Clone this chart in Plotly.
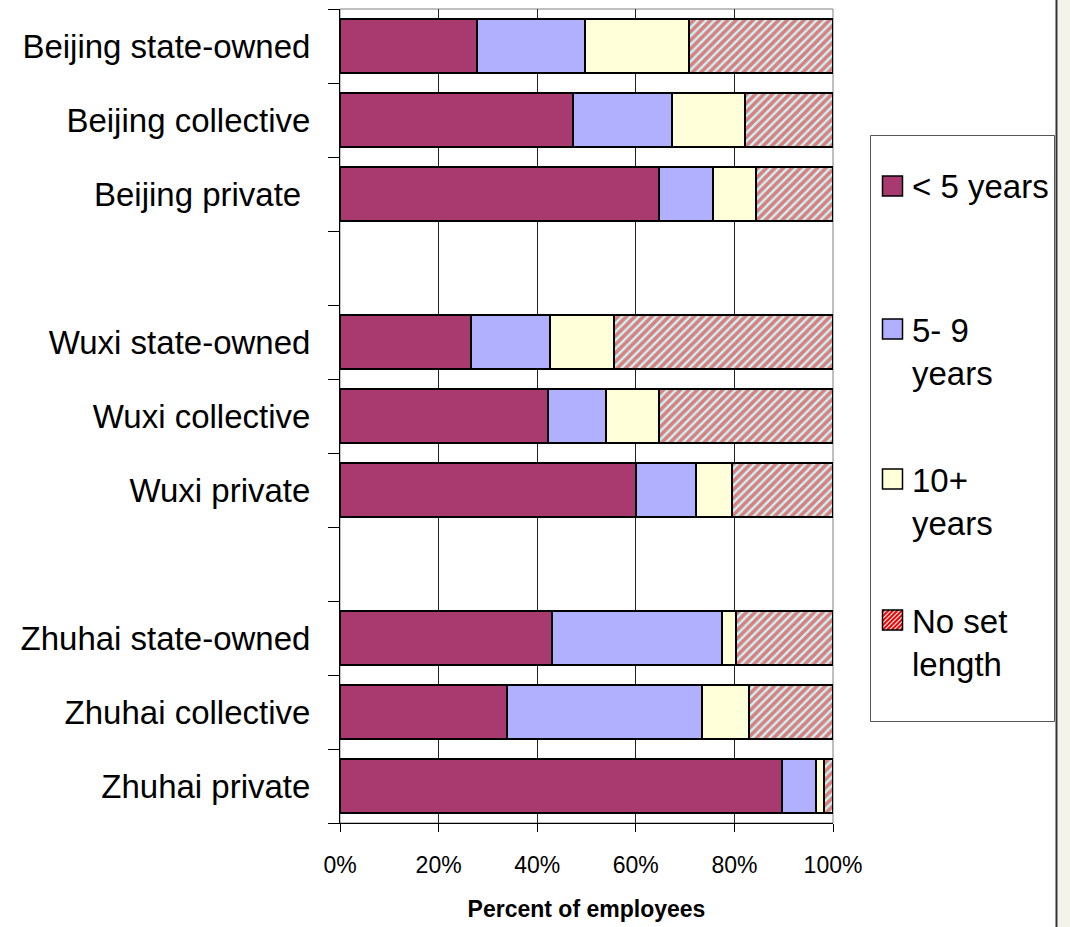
import plotly.graph_objects as go

# ---------------- data ----------------
categories = [
    "Beijing state-owned", "Beijing collective", "Beijing private\u00a0",
    "Wuxi state-owned", "Wuxi collective", "Wuxi private",
    "Zhuhai state-owned", "Zhuhai collective", "Zhuhai private",
]
slot_positions = [0, 1, 2, 4, 5, 6, 8, 9, 10]   # blank slots between city groups

lt5 = [27.8, 47.3, 64.8, 26.5, 42.1, 60.0, 43.1, 33.9, 89.6]
y5_9 = [21.8, 20.1, 10.8, 16.0, 11.8, 12.2, 34.3, 39.6, 6.9]
y10p = [21.2, 14.8, 8.8, 13.1, 10.9, 7.4, 3.0, 9.5, 1.7]
noset = [29.2, 17.8, 15.6, 44.4, 35.2, 20.4, 19.6, 17.0, 1.8]

series_names = ["< 5 years", "5- 9 years", "10+ years", "No set length"]
legend_texts = ["&lt; 5 years", "5- 9<br>years", "10+<br>years", "No set<br>length"]
x_tickvals = [0, 20, 40, 60, 80, 100]
x_ticktext = ["0%", "20%", "40%", "60%", "80%", "100%"]

# ---------------- style ----------------
FONT = "Liberation Sans, Arial, sans-serif"
C_LT5 = "#A93A6F"
C_59 = "#B0B0FF"
C_10 = "#FFFFD9"
C_HATCH_BG = "#C0F8F8"
C_HATCH_FG = "#FF0000"

W, H = 1070, 927
L, R, T, B = 340, 833, 9, 823


def px_x(px):
    return (px - L) / (R - L)


def px_y(py):
    return (B - py) / (B - T)


fig = go.Figure()
bar_common = dict(orientation="h", width=0.72, showlegend=False, hoverinfo="x+y")
fig.add_trace(go.Bar(x=lt5, y=slot_positions, name=series_names[0],
                     marker=dict(color=C_LT5, line=dict(color="black", width=2)), **bar_common))
fig.add_trace(go.Bar(x=y5_9, y=slot_positions, name=series_names[1],
                     marker=dict(color=C_59, line=dict(color="black", width=2)), **bar_common))
fig.add_trace(go.Bar(x=y10p, y=slot_positions, name=series_names[2],
                     marker=dict(color=C_10, line=dict(color="black", width=2)), **bar_common))
fig.add_trace(go.Bar(x=noset, y=slot_positions, name=series_names[3],
                     marker=dict(color=C_HATCH_BG, line=dict(color="black", width=2),
                                 pattern=dict(shape="/", fgcolor=C_HATCH_FG, bgcolor=C_HATCH_BG,
                                              size=6, solidity=0.6)), **bar_common))

n_slots = max(slot_positions) + 1
boundaries = [i - 0.5 for i in range(n_slots + 1)]

shapes = []
# plot-area border (grey)
shapes.append(dict(type="rect", xref="paper", yref="paper", x0=0, x1=1, y0=0, y1=1,
                   line=dict(color="#808080", width=1), fillcolor="rgba(0,0,0,0)", layer="below"))
# page right edge line and beige strip
shapes.append(dict(type="rect", xref="paper", yref="paper", x0=px_x(1058), x1=px_x(1075),
                   y0=px_y(935), y1=px_y(-5), line=dict(width=0), fillcolor="#F3F3EA"))
shapes.append(dict(type="line", xref="paper", yref="paper", x0=px_x(1056.5), x1=px_x(1056.5),
                   y0=px_y(935), y1=px_y(-5), line=dict(color="#333333", width=2)))
# legend box
shapes.append(dict(type="rect", xref="paper", yref="paper", x0=px_x(870.5), x1=px_x(1054.5),
                   y0=px_y(721.5), y1=px_y(135.5), line=dict(color="#555555", width=1),
                   fillcolor="white"))

legend_centers = [186, 329, 479, 620]
legend_fills = [C_LT5, C_59, C_10, C_HATCH_BG]
sq = 20
sx0 = 882.5
annotations = []
for i, (txt, cy, fc) in enumerate(zip(legend_texts, legend_centers, legend_fills)):
    y0 = cy - sq / 2
    shapes.append(dict(type="rect", xref="paper", yref="paper",
                       x0=px_x(sx0), x1=px_x(sx0 + sq), y0=px_y(y0 + sq), y1=px_y(y0),
                       fillcolor=fc, line=dict(width=0)))
    if i == 3:
        # diagonal red hatch inside square
        segs = []
        step = 4.5
        c = sx0 + y0 + 2
        while c < sx0 + y0 + 2 * sq:
            xa = max(sx0, c - (y0 + sq))
            xb = min(sx0 + sq, c - y0)
            if xb > xa:
                segs.append("M%.4f,%.4f L%.4f,%.4f" % (px_x(xa), px_y(c - xa), px_x(xb), px_y(c - xb)))
            c += step
        shapes.append(dict(type="path", xref="paper", yref="paper", path=" ".join(segs),
                           line=dict(color=C_HATCH_FG, width=2)))
    shapes.append(dict(type="rect", xref="paper", yref="paper",
                       x0=px_x(sx0), x1=px_x(sx0 + sq), y0=px_y(y0 + sq), y1=px_y(y0),
                       fillcolor="rgba(0,0,0,0)", line=dict(color="black", width=1.5)))
    nlines = txt.count("<br>") + 1
    annotations.append(dict(xref="paper", yref="paper", x=px_x(910), y=px_y(cy + (nlines - 1) * 22.5),
                            xanchor="left", yanchor="middle", align="left", showarrow=False,
                            text=txt, font=dict(family=FONT, size=33, color="black")))

fig.update_layout(
    width=W, height=H,
    margin=dict(l=L, r=W - R, t=T, b=H - B, pad=0),
    paper_bgcolor="white", plot_bgcolor="white",
    barmode="stack", bargap=0.28,
    font=dict(family=FONT, color="black"),
    shapes=shapes, annotations=annotations,
    showlegend=False,
)
fig.update_xaxes(
    range=[0, 100], tickmode="array", tickvals=x_tickvals, ticktext=x_ticktext,
    ticks="outside", ticklen=8, tickcolor="black", tickwidth=1,
    showgrid=True, gridcolor="#222222", gridwidth=1, zeroline=False,
    showline=True, linecolor="black", linewidth=1,
    tickfont=dict(family=FONT, size=23, color="black"), ticklabelstandoff=13,
    title=dict(text="<b>Percent of employees</b>", font=dict(family=FONT, size=23, color="black"),
               standoff=24),
    fixedrange=True,
)
fig.update_yaxes(
    range=[n_slots - 0.5, -0.5], tickmode="array", tickvals=slot_positions, ticktext=categories,
    ticks="", showgrid=False, zeroline=False,
    showline=True, linecolor="black", linewidth=1,
    minor=dict(tickmode="array", tickvals=boundaries, ticks="outside", ticklen=11,
               tickcolor="black", tickwidth=1, showgrid=False),
    tickfont=dict(family=FONT, size=33, color="black"), ticklabelstandoff=22,
    fixedrange=True,
)

fig.write_html("out.html", config={"displayModeBar": False},
               post_script="document.body.style.margin='0';document.body.style.overflow='hidden';")
